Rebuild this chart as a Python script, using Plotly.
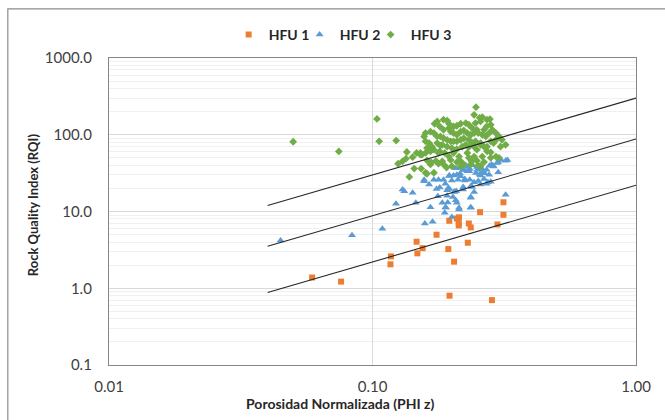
import plotly.graph_objects as go

# ---------------- data ----------------
hfu1_phiz = [0.059, 0.076, 0.1175, 0.117, 0.147, 0.148, 0.155, 0.175, 0.194, 0.1956,
             0.204, 0.196, 0.209, 0.213, 0.2125, 0.2125, 0.23, 0.232, 0.236, 0.256,
             0.298, 0.284, 0.314, 0.314]
hfu1_rqi = [1.38, 1.22, 2.6, 2.05, 4.04, 2.85, 3.33, 4.98, 3.24, 7.57,
            2.22, 0.80, 8.1, 8.4, 7.05, 6.58, 3.92, 6.98, 6.2, 9.8,
            6.78, 0.70, 13.2, 9.06]

hfu2_phiz = [0.0448, 0.0836, 0.109, 0.1228, 0.130, 0.132, 0.142, 0.146, 0.157, 0.158,
             0.169, 0.166, 0.157, 0.178, 0.186, 0.175, 0.180, 0.196, 0.200, 0.211,
             0.209, 0.215, 0.196, 0.205, 0.221, 0.224, 0.229, 0.234, 0.240, 0.249,
             0.259, 0.263, 0.271, 0.278, 0.266, 0.277, 0.287, 0.297, 0.300, 0.265,
             0.271, 0.281, 0.247, 0.255, 0.243, 0.221, 0.226, 0.216, 0.207, 0.243,
             0.239, 0.308, 0.325, 0.303, 0.320, 0.320, 0.190, 0.213, 0.236, 0.184,
             0.209, 0.188, 0.200, 0.207, 0.213, 0.236, 0.236, 0.204, 0.220, 0.189,
             0.193, 0.192, 0.171, 0.195, 0.203, 0.189, 0.164, 0.194, 0.208, 0.220,
             0.257, 0.236, 0.202, 0.192, 0.177, 0.236, 0.252, 0.274, 0.216, 0.224,
             0.234, 0.229, 0.222, 0.215, 0.233, 0.257, 0.261, 0.250, 0.283, 0.288,
             0.300]
hfu2_rqi = [4.2, 4.92, 5.96, 12.6, 19.3, 18.4, 17.5, 13.0, 24.7, 7.0,
            7.35, 11.4, 26.0, 26.0, 26.0, 19.6, 20.5, 29.5, 25.4, 26.0,
            30.2, 31.2, 19.6, 18.2, 20.9, 26.5, 33.4, 35.8, 40.0, 38.0,
            36.5, 34.0, 35.0, 39.6, 31.4, 30.2, 39.6, 43.0, 32.4, 26.5,
            23.0, 24.5, 31.8, 30.4, 24.0, 35.0, 40.0, 38.0, 36.5, 17.9,
            20.9, 47.0, 47.0, 48.0, 16.5, 46.0, 11.3, 11.2, 11.4, 13.0,
            13.0, 9.6, 8.5, 14.0, 10.6, 15.1, 11.2, 18.0, 19.5, 11.3,
            13.1, 18.9, 26.0, 29.0, 29.5, 23.0, 22.4, 20.3, 18.5, 19.3,
            22.4, 21.4, 15.5, 16.1, 15.8, 15.5, 25.0, 24.0, 28.8, 25.4,
            26.0, 38.0, 34.7, 36.8, 33.4, 29.5, 32.4, 35.1, 41.1, 38.7,
            44.0]

hfu3_phiz = [0.050, 0.0745, 0.104, 0.106, 0.123, 0.135, 0.134, 0.130, 0.125, 0.138,
             0.144, 0.153, 0.247, 0.243, 0.255, 0.261, 0.246, 0.257, 0.272, 0.279,
             0.281, 0.271, 0.265, 0.249, 0.239, 0.232, 0.226, 0.216, 0.209, 0.203,
             0.195, 0.192, 0.186, 0.176, 0.172, 0.180, 0.186, 0.195, 0.198, 0.203,
             0.209, 0.216, 0.222, 0.229, 0.236, 0.243, 0.252, 0.261, 0.269, 0.277,
             0.285, 0.294, 0.302, 0.310, 0.320, 0.306, 0.288, 0.281, 0.272, 0.265,
             0.257, 0.246, 0.239, 0.232, 0.222, 0.216, 0.209, 0.203, 0.198, 0.192,
             0.186, 0.181, 0.176, 0.171, 0.166, 0.159, 0.157, 0.159, 0.164, 0.168,
             0.176, 0.184, 0.192, 0.200, 0.209, 0.219, 0.226, 0.232, 0.243, 0.249,
             0.166, 0.152, 0.178, 0.161, 0.195, 0.198, 0.203, 0.213, 0.216, 0.222,
             0.229, 0.232, 0.238, 0.243, 0.249, 0.252, 0.261, 0.265, 0.272, 0.281,
             0.257, 0.161, 0.167, 0.174, 0.178, 0.184, 0.187, 0.191, 0.159, 0.152,
             0.167, 0.171, 0.181, 0.180, 0.188, 0.142, 0.147, 0.154, 0.166, 0.200,
             0.209, 0.216, 0.236, 0.257, 0.281, 0.294, 0.302, 0.159, 0.161, 0.171,
             0.290, 0.294]
hfu3_rqi = [81.0, 60.7, 161.0, 82.0, 84.0, 59.6, 48.8, 45.0, 42.0, 28.2,
            36.2, 36.2, 229.0, 182.0, 166.0, 170.0, 142.0, 149.0, 157.0, 160.0,
            135.0, 128.0, 116.0, 116.0, 122.0, 135.0, 142.0, 139.0, 131.0, 128.0,
            139.0, 153.0, 157.0, 149.0, 139.0, 128.0, 116.0, 122.0, 110.0, 105.0,
            100.0, 110.0, 114.0, 105.0, 100.0, 105.0, 105.0, 100.0, 95.0, 105.0,
            116.0, 105.0, 95.0, 86.0, 74.0, 70.0, 78.0, 82.0, 70.0, 70.0,
            78.0, 82.0, 78.0, 86.0, 90.0, 86.0, 82.0, 82.0, 82.0, 86.0,
            90.0, 95.0, 95.0, 105.0, 110.0, 105.0, 95.0, 82.0, 78.0, 70.0,
            78.0, 74.0, 70.0, 67.0, 65.0, 70.0, 74.0, 69.0, 70.0, 64.0,
            61.0, 58.0, 58.0, 67.0, 52.0, 47.0, 58.0, 52.0, 45.0, 41.0,
            58.0, 50.0, 45.0, 52.0, 46.0, 40.0, 52.0, 44.0, 61.0, 59.0,
            74.0, 46.4, 43.7, 45.5, 42.0, 45.0, 40.4, 37.3, 58.0, 55.0,
            70.5, 64.0, 72.0, 60.7, 57.9, 51.0, 58.0, 55.0, 41.0, 39.0,
            44.0, 39.0, 41.0, 39.0, 50.0, 52.0, 50.0, 32.0, 31.0, 32.0,
            82.0, 86.0]

# flow-zone lines: RQI = FZI * PHIz
fzi_values = [300.0, 88.0, 22.0]
line_phiz = [0.04, 1.0]

x_ticks = [0.01, 0.1, 1.0]
y_ticks = [0.1, 1, 10, 100, 1000]

x_title = "Porosidad Normalizada (PHI z)"
y_title = "Rock Quality Index (RQI)"

FONT = "Lato, 'Open Sans', Arial, sans-serif"

fig = go.Figure()
fig.add_trace(go.Scatter(x=hfu1_phiz, y=hfu1_rqi, mode="markers", name="HFU 1",
                         marker=dict(symbol="square", size=6, color="#ed7d31")))
fig.add_trace(go.Scatter(x=hfu2_phiz, y=hfu2_rqi, mode="markers", name="HFU 2",
                         marker=dict(symbol="triangle-up", size=7, color="#5b9bd5")))
fig.add_trace(go.Scatter(x=hfu3_phiz, y=hfu3_rqi, mode="markers", name="HFU 3",
                         marker=dict(symbol="diamond", size=6, color="#70ad47")))
# invisible spacer entry so the last legend label is not clipped
fig.add_trace(go.Scatter(x=[None], y=[None], mode="markers", name=" ",
                         marker=dict(color="rgba(0,0,0,0)"), hoverinfo="skip"))
for f in fzi_values:
    fig.add_trace(go.Scatter(x=line_phiz, y=[f * p for p in line_phiz], mode="lines",
                             line=dict(color="#262626", width=1.1),
                             showlegend=False, hoverinfo="skip"))

fig.update_layout(
    width=665, height=420,
    margin=dict(l=109, r=29, t=58, b=55, autoexpand=False),
    paper_bgcolor="white", plot_bgcolor="white",
    font=dict(family=FONT, size=15, color="#404040"),
    legend=dict(orientation="h", x=0.227, y=1.075, xanchor="left", yanchor="middle",
                font=dict(family=FONT, size=14, color="#262626", weight="bold"),
                itemwidth=30, entrywidth=26, entrywidthmode="pixels",
                bgcolor="rgba(0,0,0,0)", tracegroupgap=0),
    shapes=[dict(type="rect", xref="paper", yref="paper",
                 x0=-0.192, x1=1.13, y0=-0.25, y1=1.16,
                 line=dict(color="#8c8c8c", width=1.2), layer="below")],
    annotations=[
        dict(text="<b>" + x_title + "</b>", xref="paper", yref="paper",
             x=0.44, y=-0.127, xanchor="center", yanchor="middle", showarrow=False,
             font=dict(family=FONT, size=14, color="#262626")),
        dict(text="<b>" + y_title + "</b>", xref="paper", yref="paper",
             x=-0.144, y=0.521, xanchor="center", yanchor="middle", showarrow=False,
             textangle=-90, font=dict(family=FONT, size=13, color="#262626")),
    ],
)
fig.update_xaxes(type="log", range=[-2, 0], tickvals=x_ticks, tickformat=".2f",
                 showgrid=True, gridcolor="#d9d9d9", gridwidth=1,
                 showline=True, mirror=True, linecolor="#868686", linewidth=1.3,
                 ticks="", ticklabelstandoff=8, zeroline=False, automargin=False)
fig.update_yaxes(type="log", range=[-1, 3], tickvals=y_ticks, tickformat=".1f",
                 showgrid=True, gridcolor="#d9d9d9", gridwidth=1,
                 minor=dict(showgrid=True, gridcolor="#f0f0f0", dtick="D1", gridwidth=1),
                 showline=True, mirror=True, linecolor="#868686", linewidth=1.3,
                 ticks="", ticklabelstandoff=13, zeroline=False, automargin=False)

fig.write_html("out.html")
